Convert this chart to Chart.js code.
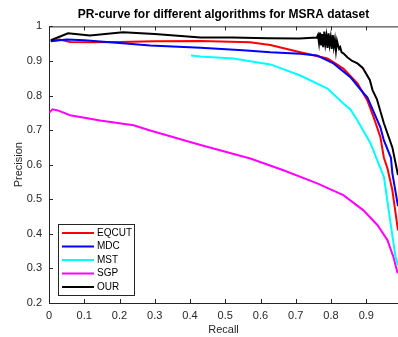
<!DOCTYPE html>
<html>
<head>
<meta charset="utf-8">
<script src="https://cdn.jsdelivr.net/npm/chart.js@4/dist/chart.umd.min.js"></script>
<style>
  html, body { margin: 0; padding: 0; background: #fff; }
  #wrap { width: 398px; height: 337px; }
</style>
</head>
<body>
<div id="wrap"><canvas id="pr"></canvas></div>
<script>
/* PR-curve – MSRA dataset */

// series: recall values, precision values
var eqcutRecall = [0.005, 0.03, 0.06, 0.12, 0.2, 0.3, 0.43, 0.57, 0.628, 0.713, 0.79, 0.835, 0.875, 0.903, 0.921, 0.94, 0.95, 0.96, 0.974, 0.99];
var eqcutPrec   = [0.958, 0.962, 0.955, 0.954, 0.955, 0.957, 0.958, 0.954, 0.946, 0.925, 0.907, 0.878, 0.835, 0.786, 0.737, 0.68, 0.62, 0.59, 0.526, 0.41];

var mdcRecall = [0.005, 0.05, 0.1, 0.2, 0.287, 0.43, 0.55, 0.628, 0.713, 0.76, 0.807, 0.855, 0.893, 0.903, 0.94, 0.95, 0.97, 0.974, 0.99];
var mdcPrec   = [0.957, 0.962, 0.96, 0.952, 0.945, 0.938, 0.931, 0.925, 0.921, 0.916, 0.893, 0.853, 0.806, 0.795, 0.708, 0.67, 0.62, 0.575, 0.48];

var mstRecall = [0.403, 0.43, 0.523, 0.628, 0.713, 0.79, 0.835, 0.855, 0.875, 0.912, 0.94, 0.95, 0.969, 0.983, 0.99];
var mstPrec   = [0.916, 0.913, 0.907, 0.89, 0.858, 0.82, 0.777, 0.76, 0.728, 0.662, 0.59, 0.565, 0.43, 0.333, 0.31];

var sgpRecall = [0, 0.01, 0.025, 0.06, 0.145, 0.24, 0.287, 0.43, 0.571, 0.665, 0.761, 0.835, 0.892, 0.932, 0.96, 0.977, 0.989];
var sgpPrec   = [0.75, 0.76, 0.757, 0.743, 0.728, 0.714, 0.699, 0.657, 0.618, 0.584, 0.546, 0.512, 0.468, 0.425, 0.382, 0.333, 0.286];

var ourRecall = [0.005, 0.054, 0.116, 0.21, 0.3, 0.43, 0.52, 0.62, 0.71, 0.76,
                 0.763, 0.766, 0.769, 0.772, 0.775, 0.778, 0.781, 0.784, 0.787, 0.79,
                 0.793, 0.796, 0.799, 0.802, 0.805, 0.808, 0.811, 0.814, 0.817, 0.82,
                 0.823, 0.826, 0.83, 0.835, 0.847, 0.86, 0.875, 0.89, 0.91, 0.918,
                 0.93, 0.95, 0.974, 0.99];
var ourPrec   = [0.96, 0.98, 0.974, 0.983, 0.978, 0.968, 0.968, 0.966, 0.965, 0.968,
                 0.975, 0.952, 0.982, 0.945, 0.978, 0.94, 0.985, 0.95, 0.972, 0.938,
                 0.98, 0.948, 0.968, 0.935, 0.975, 0.942, 0.962, 0.93, 0.958, 0.945,
                 0.935, 0.94, 0.925, 0.922, 0.91, 0.9, 0.893, 0.88, 0.845, 0.815,
                 0.79, 0.72, 0.65, 0.57];

var seriesNames  = ['EQCUT', 'MDC', 'MST', 'SGP', 'OUR'];
var seriesColors = ['#ff0000', '#0000ff', '#00ffff', '#ff00ff', '#000000'];
var seriesOrder  = [2, 1, 3, 4, 0];

var xTicks = [0, 0.1, 0.2, 0.3, 0.4, 0.5, 0.6, 0.7, 0.8, 0.9];
var yTicks = [0.2, 0.3, 0.4, 0.5, 0.6, 0.7, 0.8, 0.9, 1];

function pairs(xs, ys) {
    return xs.map(function (x, i) { return { x: x, y: ys[i] }; });
}

var allSeries = [
    pairs(eqcutRecall, eqcutPrec),
    pairs(mdcRecall, mdcPrec),
    pairs(mstRecall, mstPrec),
    pairs(sgpRecall, sgpPrec),
    pairs(ourRecall, ourPrec)
];

var FONT = "'Liberation Sans', Arial, sans-serif";
var AXIS = '#262626';

/* ── MATLAB-style box, inward ticks and legend ─────────────── */
var matlabBox = {
    id: 'matlabBox',
    afterDraw: function (chart) {
        var ctx = chart.ctx, a = chart.chartArea;
        var xs = chart.scales.x, ys = chart.scales.y;
        ctx.save();
        ctx.strokeStyle = AXIS;
        ctx.lineWidth = 1;
        ctx.beginPath();
        ctx.moveTo(a.left, a.top + 0.5);
        ctx.lineTo(a.right, a.top + 0.5);
        xTicks.forEach(function (v) {
            var px = Math.round(xs.getPixelForValue(v)) + 0.5;
            ctx.moveTo(px, a.bottom); ctx.lineTo(px, a.bottom - 4);
            ctx.moveTo(px, a.top);    ctx.lineTo(px, a.top + 4);
        });
        yTicks.forEach(function (v) {
            var py = Math.round(ys.getPixelForValue(v)) + 0.5;
            ctx.moveTo(a.left, py); ctx.lineTo(a.left + 4, py);
        });
        ctx.stroke();

        // legend box
        var bx = 58.5, by = 224.5, bw = 76, bh = 71;
        ctx.fillStyle = '#fff';
        ctx.fillRect(bx, by, bw, bh);
        ctx.strokeStyle = AXIS;
        ctx.strokeRect(bx, by, bw, bh);
        ctx.font = '10px ' + FONT;
        ctx.textBaseline = 'middle';
        seriesNames.forEach(function (name, i) {
            var ly = 233 + i * 13.5;
            ctx.strokeStyle = seriesColors[i];
            ctx.lineWidth = 2;
            ctx.beginPath();
            ctx.moveTo(62, ly); ctx.lineTo(94, ly);
            ctx.stroke();
            ctx.fillStyle = '#000';
            ctx.fillText(name, 97, ly);
        });
        ctx.restore();
    }
};

new Chart(document.getElementById('pr'), {
    type: 'scatter',
    data: {
        datasets: allSeries.map(function (pts, i) {
            return {
                label: seriesNames[i],
                data: pts,
                showLine: true,
                borderColor: seriesColors[i],
                backgroundColor: seriesColors[i],
                borderWidth: 2,
                pointRadius: 0,
                tension: 0,
                order: seriesOrder[i]
            };
        })
    },
    options: {
        responsive: true,
        maintainAspectRatio: false,
        animation: false,
        layout: { padding: { left: 0, right: 0, top: 0, bottom: 0 } },
        plugins: {
            legend: { display: false },
            tooltip: { enabled: false },
            title: {
                display: true,
                fullSize: false,
                text: 'PR-curve for different algorithms for MSRA dataset',
                color: '#000',
                font: { family: FONT, size: 12, weight: 'bold' },
                padding: { top: 7, bottom: 5 }
            }
        },
        scales: {
            x: {
                type: 'linear',
                min: 0,
                max: 0.99,
                afterBuildTicks: function (s) { s.ticks = xTicks.map(function (v) { return { value: v }; }); },
                afterFit: function (s) { s.height = 34; },
                grid: { display: false, drawTicks: false },
                border: { color: AXIS, width: 1 },
                ticks: {
                    color: AXIS,
                    padding: 6,
                    maxRotation: 0,
                    font: { family: FONT, size: 11 },
                    callback: function (v) { return String(v); }
                },
                title: {
                    display: true,
                    text: 'Recall',
                    color: AXIS,
                    font: { family: FONT, size: 11 },
                    padding: { top: 1, bottom: 0 }
                }
            },
            y: {
                type: 'linear',
                min: 0.2,
                max: 1,
                afterBuildTicks: function (s) { s.ticks = yTicks.map(function (v) { return { value: v }; }); },
                afterFit: function (s) { s.width = 49; },
                grid: { display: false, drawTicks: false },
                border: { color: AXIS, width: 1 },
                ticks: {
                    color: AXIS,
                    padding: 7,
                    font: { family: FONT, size: 11 },
                    callback: function (v) { return String(v); }
                },
                title: {
                    display: true,
                    text: 'Precision',
                    color: AXIS,
                    font: { family: FONT, size: 11 },
                    padding: { top: 12, bottom: 2 }
                }
            }
        }
    },
    plugins: [matlabBox]
});
</script>
</body>
</html>
